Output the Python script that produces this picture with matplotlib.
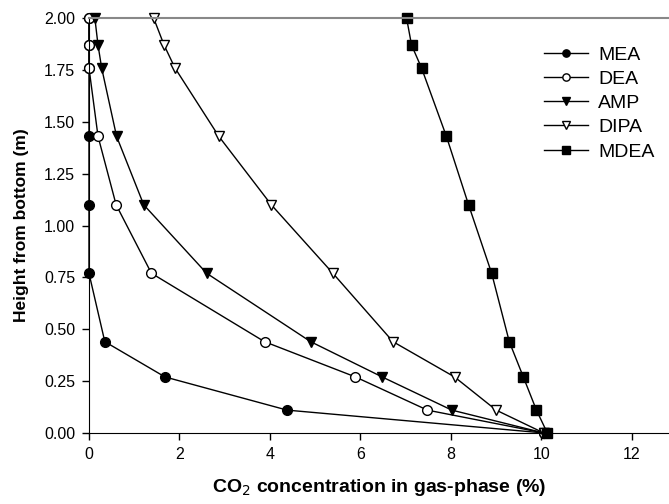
import matplotlib
matplotlib.use("Agg")
import matplotlib.pyplot as plt

plt.rcParams['font.family'] = ['Liberation Sans', 'DejaVu Sans']

height = [2.00, 1.87, 1.76, 1.43, 1.10, 0.77, 0.44, 0.27, 0.11, 0.00]

mea = [0.0, 0.0, 0.0, 0.0, 0.0, 0.0, 0.35, 1.68, 4.38, 10.05]
dea = [0.0, 0.0, 0.0, 0.2, 0.6, 1.38, 3.88, 5.89, 7.48, 10.05]
amp = [0.13, 0.2, 0.28, 0.61, 1.21, 2.6, 4.9, 6.48, 8.02, 10.05]
dipa = [1.43, 1.66, 1.9, 2.87, 4.03, 5.39, 6.72, 8.08, 9.0, 10.05]
mdea = [7.02, 7.13, 7.35, 7.9, 8.39, 8.9, 9.29, 9.6, 9.89, 10.13]

series = [
    ("MEA", mea, dict(marker='o', mfc='black')),
    ("DEA", dea, dict(marker='o', mfc='white')),
    ("AMP", amp, dict(marker='v', mfc='black')),
    ("DIPA", dipa, dict(marker='v', mfc='white')),
    ("MDEA", mdea, dict(marker='s', mfc='black')),
]

fig = plt.figure(figsize=(6.69, 5.04), dpi=100)
ax = fig.add_axes([0.133, 0.141, 0.867, 0.823])

for name, xs, style in series:
    ax.plot(xs, height, color='black', lw=1.0, mec='black', ms=7,
            label=name, clip_on=False, **style)

ax.set_xlim(0, 12.82)
ax.set_ylim(0, 2.0)
ax.set_xticks([0, 2, 4, 6, 8, 10, 12])
ax.set_yticks([0, 0.25, 0.5, 0.75, 1.0, 1.25, 1.5, 1.75, 2.0])
ax.set_yticklabels([f"{v:.2f}" for v in ax.get_yticks()])

ax.spines['right'].set_visible(False)
ax.spines['top'].set_color('#888888')
ax.spines['top'].set_linewidth(1.5)
ax.tick_params(direction='out', length=5, width=1, labelsize=11.5, pad=5)

ax.set_xlabel("CO$_2$ concentration in gas-phase (%)", fontsize=14,
              fontweight='bold', labelpad=11)
ax.set_ylabel("Height from bottom (m)", fontsize=12.5, fontweight='bold',
              labelpad=11)

ax.legend(loc='upper right', bbox_to_anchor=(1.005, 0.975), frameon=False,
          fontsize=14, handlelength=2.3, labelspacing=0.34, handletextpad=0.5,
          markerscale=0.75)

fig.savefig("out.png", dpi=100)
